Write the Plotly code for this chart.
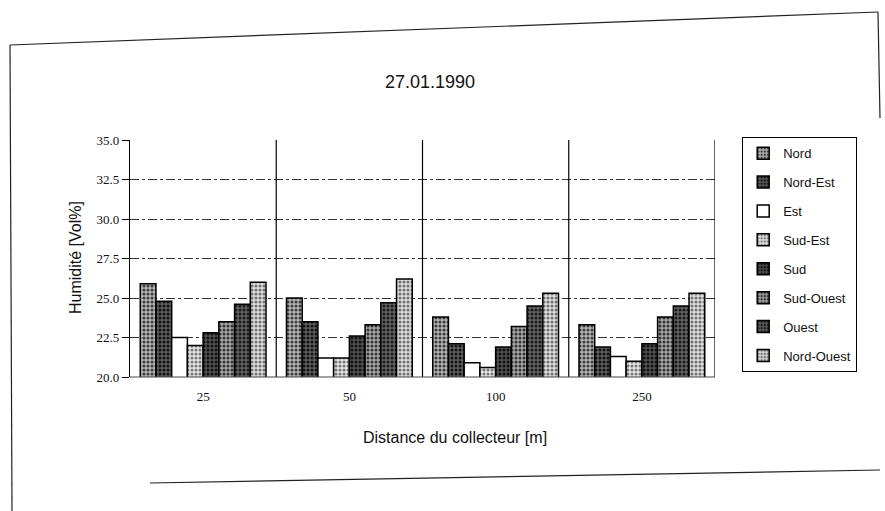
import plotly.graph_objects as go

categories = ["25", "50", "100", "250"]
series_names = ["Nord", "Nord-Est", "Est", "Sud-Est", "Sud", "Sud-Ouest", "Ouest", "Nord-Ouest"]
nord = [25.9, 25.0, 23.8, 23.3]
nord_est = [24.8, 23.5, 22.1, 21.9]
est = [22.5, 21.2, 20.9, 21.3]
sud_est = [22.0, 21.2, 20.6, 21.0]
sud = [22.8, 22.6, 21.9, 22.1]
sud_ouest = [23.5, 23.3, 23.2, 23.8]
ouest = [24.6, 24.7, 24.5, 24.5]
nord_ouest = [26.0, 26.2, 25.3, 25.3]
series_values = [nord, nord_est, est, sud_est, sud, sud_ouest, ouest, nord_ouest]
y_ticks = [20.0, 22.5, 25.0, 27.5, 30.0, 32.5, 35.0]

styles = [
    dict(bg="#b4b4b4", fg="#3a3a3a", shape="."),
    dict(bg="#5e5e5e", fg="#111111", shape="."),
    dict(bg="#ffffff", fg="#ffffff", shape=""),
    dict(bg="#e6e6e6", fg="#777777", shape="."),
    dict(bg="#505050", fg="#111111", shape="."),
    dict(bg="#a6a6a6", fg="#333333", shape="."),
    dict(bg="#626262", fg="#1a1a1a", shape="."),
    dict(bg="#dedede", fg="#707070", shape="."),
]

W, H = 885, 511
L, R, T, B = 130, 715, 140, 377  # plot area in pixels


def px(x):
    return (x - L) / (R - L)


def py(y):
    return (B - y) / (B - T)


fig = go.Figure()
for name, vals, st in zip(series_names, series_values, styles):
    fig.add_trace(go.Bar(
        x=categories, y=vals, name=name, legendgroup=name,
        marker=dict(
            color=st["bg"],
            line=dict(color="black", width=1.5),
            pattern=dict(shape=st["shape"], fgcolor=st["fg"], bgcolor=st["bg"],
                         size=4, solidity=0.45, fillmode="replace"),
        ),
    ))

shapes = []
# vertical separators between distance groups and right boundary
for xv in [0.5, 1.5, 2.5, 3.5]:
    shapes.append(dict(type="line", xref="x", yref="paper", x0=xv, x1=xv, y0=0, y1=1,
                       line=dict(color="black", width=1.2)))
# baseline
shapes.append(dict(type="line", xref="paper", yref="paper", x0=0, x1=1, y0=0, y1=0,
                   line=dict(color="#444444", width=1)))
# outer scanned frame
frame = [((10, 45), (878, 12)), ((878, 12), (880, 118)), ((150, 483), (880, 470)), ((10, 45), (12, 511))]
for (a, b) in frame:
    shapes.append(dict(type="line", xref="paper", yref="paper",
                       x0=px(a[0]), y0=py(a[1]), x1=px(b[0]), y1=py(b[1]),
                       line=dict(color="#222222", width=1.2)))

fig.update_layout(
    width=W, height=H,
    margin=dict(l=L, r=W - R, t=T, b=H - B),
    paper_bgcolor="white", plot_bgcolor="white",
    barmode="group", bargap=0.14, bargroupgap=0,
    title=dict(text="27.01.1990", x=px(430), xref="paper", xanchor="center",
               y=1 - 82 / H, yref="container", yanchor="middle",
               font=dict(family="Liberation Sans, Arial", size=18, color="#111111")),
    xaxis=dict(
        range=[-0.5, 3.5], showgrid=False, showline=False, ticks="",
        ticklabelstandoff=10,
        tickfont=dict(family="Liberation Serif, Times New Roman", size=13, color="#111111"),
    ),
    yaxis=dict(
        range=[20, 35], tickvals=y_ticks, ticktext=[f"{v:.1f}" for v in y_ticks],
        showgrid=True, gridcolor="#333333", griddash="dashdot", gridwidth=1,
        showline=True, linecolor="black", linewidth=1.2,
        ticks="outside", ticklen=7, tickcolor="black",
        tickfont=dict(family="Liberation Serif, Times New Roman", size=13, color="#111111"),
        zeroline=False,
    ),
    legend=dict(
        x=px(742), y=py(137), xanchor="left", yanchor="top",
        bordercolor="black", borderwidth=1.2, bgcolor="white",
        font=dict(family="Liberation Sans, Arial", size=13, color="#111111"),
        tracegroupgap=9, traceorder="grouped", itemwidth=30,
        entrywidth=86,
    ),
    shapes=shapes,
    annotations=[
        dict(text="Humidité [Vol%]", xref="paper", yref="paper", x=px(75), y=py(258),
             textangle=-90, showarrow=False, xanchor="center", yanchor="middle",
             font=dict(family="Liberation Sans, Arial", size=16, color="#111111")),
        dict(text="Distance du collecteur [m]", xref="paper", yref="paper", x=px(455), y=py(437),
             showarrow=False, xanchor="center", yanchor="middle",
             font=dict(family="Liberation Sans, Arial", size=16, color="#111111")),
    ],
)

fig.write_html("out.html")
